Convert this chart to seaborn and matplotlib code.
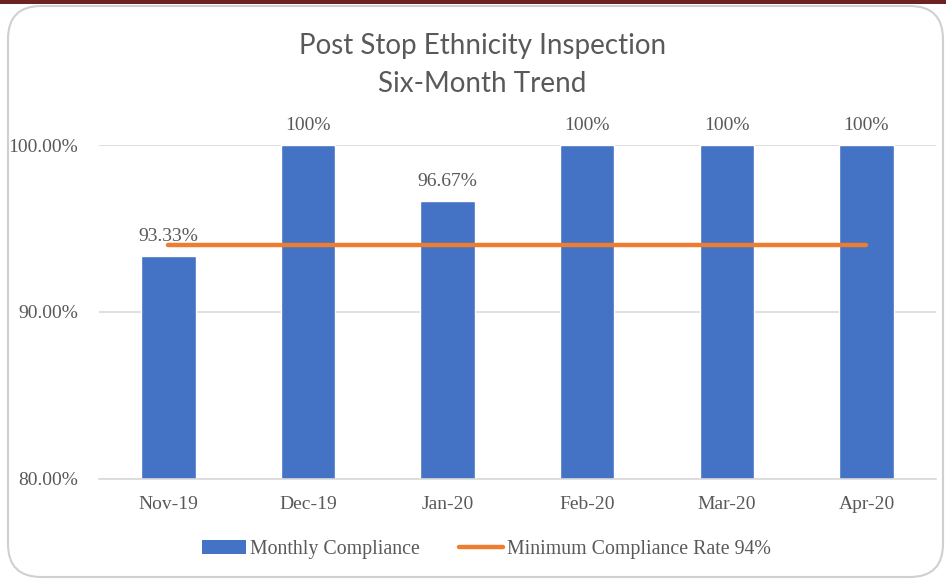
import matplotlib
matplotlib.use("Agg")
import matplotlib.pyplot as plt
import seaborn as sns
import pandas as pd
from matplotlib.patches import Patch, FancyBboxPatch, Rectangle
from matplotlib.lines import Line2D
from matplotlib.ticker import PercentFormatter

# ---------------------------------------------------------
# Data
# ---------------------------------------------------------
months = ["Nov-19", "Dec-19", "Jan-20", "Feb-20", "Mar-20", "Apr-20"]
compliance = [0.9333, 1.0, 0.9667, 1.0, 1.0, 1.0]
bar_labels = ["93.33%", "100%", "96.67%", "100%", "100%", "100%"]
min_rate = [0.94, 0.94, 0.94, 0.94, 0.94, 0.94]

df = pd.DataFrame({"Month": months, "Compliance": compliance})

BLUE = "#4472C4"
ORANGE = "#ED7D31"
TEXT = "#595959"
GRID = "#D9D9D9"

sns.set_theme(style="white")
serif = ["Liberation Serif", "DejaVu Serif"]

fig = plt.figure(figsize=(9.46, 5.81), dpi=100)

# outer frame like the chart object
fig.patches.append(Rectangle((0, 1 - 4 / 581), 1, 4 / 581, transform=fig.transFigure,
                             facecolor="#6B2323", edgecolor="none", zorder=-2))
fig.patches.append(FancyBboxPatch((8 / 946, 4 / 581), 935 / 946, 571 / 581,
                                  boxstyle="round,pad=0,rounding_size=0.035",
                                  transform=fig.transFigure, facecolor="white",
                                  edgecolor="#D0D0D0", linewidth=1.5, zorder=-1,
                                  mutation_aspect=946 / 581))

ax = fig.add_axes([0.1043, 0.1756, 0.8854, 0.5748])

# ---------------------------------------------------------
# Bars + minimum compliance line
# ---------------------------------------------------------
sns.barplot(data=df, x="Month", y="Compliance", color=BLUE, width=0.39,
            saturation=1, ax=ax, zorder=2)
ax.plot(range(len(months)), min_rate, color=ORANGE, linewidth=3.2,
        solid_capstyle="round", zorder=3)

for i, (v, lab) in enumerate(zip(compliance, bar_labels)):
    ax.annotate(lab, (i, v), xytext=(0, 8), textcoords="offset points",
                ha="center", va="bottom", fontsize=14, color=TEXT,
                family=serif, annotation_clip=False)

ax.set_ylim(0.8, 1.0)
ax.set_xlim(-0.5, len(months) - 0.5)
ax.set_yticks([0.8, 0.9, 1.0])
ax.yaxis.set_major_formatter(PercentFormatter(1.0, decimals=2))
ax.grid(axis="y", color=GRID, linewidth=1.2, zorder=0)
ax.set_axisbelow(True)
for s in ["top", "right", "left"]:
    ax.spines[s].set_visible(False)
ax.spines["bottom"].set_color(GRID)
ax.spines["bottom"].set_linewidth(1.2)
ax.set_xlabel("")
ax.set_ylabel("")
ax.tick_params(axis="both", length=0, colors=TEXT, labelsize=14)
ax.tick_params(axis="y", pad=15)
ax.tick_params(axis="x", pad=12)
for t in ax.get_xticklabels() + ax.get_yticklabels():
    t.set_family(serif)
ax.patch.set_alpha(0)

fig.text(0.51, 0.888, "Post Stop Ethnicity Inspection\nSix-Month Trend",
         ha="center", va="center", fontsize=20, color=TEXT,
         family=["Lato", "DejaVu Sans"], linespacing=1.6)

handles = [Patch(facecolor=BLUE, edgecolor="none"),
           Line2D([0], [0], color=ORANGE, linewidth=3.2)]
fig.legend(handles, ["Monthly Compliance", "Minimum Compliance Rate 94%"],
           loc="center", bbox_to_anchor=(0.514, 0.054), ncol=2, frameon=False,
           prop={"family": serif, "size": 14.3}, labelcolor=TEXT,
           handlelength=2.2, handletextpad=0.2, columnspacing=2.0)

fig.savefig("out.png", dpi=100)
